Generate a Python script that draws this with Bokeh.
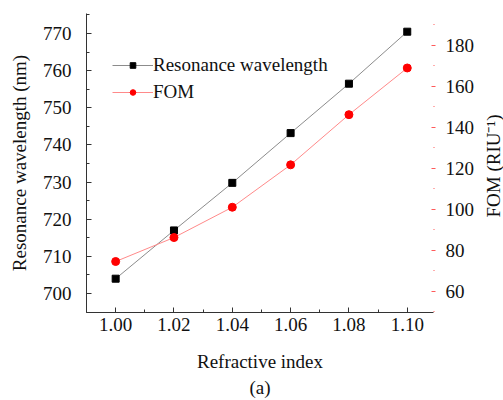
import math
from bokeh.plotting import figure
from bokeh.models import (Range1d, LinearAxis, FixedTicker, PrintfTickFormatter,
                          Label, Legend, Title)
from bokeh.embed import file_html
from bokeh.resources import INLINE

# ---- data ----
refractive_index = [1.00, 1.02, 1.04, 1.06, 1.08, 1.10]
resonance_wavelength = [704.0, 717.0, 729.8, 743.2, 756.5, 770.5]
fom = [74.5, 86.2, 101.0, 121.7, 146.2, 169.0]

x_ticks = [1.00, 1.02, 1.04, 1.06, 1.08, 1.10]
x_minor = [0.99, 1.01, 1.03, 1.05, 1.07, 1.09]
y_ticks = [700, 710, 720, 730, 740, 750, 760, 770]
y_minor = [695, 705, 715, 725, 735, 745, 755, 765, 775]
y2_ticks = [60, 80, 100, 120, 140, 160, 180]
y2_minor = [50, 70, 90, 110, 130, 150, 170, 190]

FONT = "Liberation Serif"
W, H = 503, 400
FL, FR, FT, FB = 86, 433, 13, 312  # frame edges in canvas px

p = figure(width=W, height=H, output_backend="svg", toolbar_location=None,
           x_range=Range1d(0.99, 1.109), y_range=Range1d(694.9, 775.4),
           min_border_left=FL, min_border_right=W - FR, min_border_top=FT,
           min_border_bottom=H - FB)
p.extra_y_ranges = {"fom": Range1d(49.6, 195.6)}
p.outline_line_color = None
p.grid.visible = False
p.background_fill_color = "white"
p.border_fill_color = "white"

# left axis
ya = p.yaxis[0]
ya.ticker = FixedTicker(ticks=y_ticks, minor_ticks=y_minor)
ya.axis_label = "Resonance wavelength (nm)"
ya.axis_label_standoff = 10
ya.major_label_standoff = 15

# bottom axis
xa = p.xaxis[0]
xa.ticker = FixedTicker(ticks=x_ticks, minor_ticks=x_minor)
xa.formatter = PrintfTickFormatter(format="%.2f")
xa.axis_label = "Refractive index"
xa.axis_label_standoff = 17
xa.major_label_standoff = 5

for ax in (xa, ya):
    ax.axis_label_text_font = FONT
    ax.axis_label_text_font_size = "19px"
    ax.axis_label_text_font_style = "normal"
    ax.major_label_text_font = FONT
    ax.major_label_text_font_size = "19px"
    ax.axis_line_color = "#333333"
    ax.major_tick_line_color = "#333333"
    ax.minor_tick_line_color = "#333333"
    ax.major_tick_in = 5
    ax.major_tick_out = 0
    ax.minor_tick_in = 3
    ax.minor_tick_out = 0
    ax.major_label_text_color = "#111111"
    ax.axis_label_text_color = "#111111"

# right axis
ra = LinearAxis(y_range_name="fom",
                ticker=FixedTicker(ticks=y2_ticks, minor_ticks=y2_minor))
ra.axis_line_color = None
ra.major_tick_line_color = "#ff5a5a"
ra.minor_tick_line_color = "#ff5a5a"
ra.major_tick_in = 2
ra.major_tick_out = 2
ra.minor_tick_in = 0
ra.minor_tick_out = 1
ra.major_label_text_font = FONT
ra.major_label_text_font_size = "19px"
ra.major_label_text_color = "#111111"
ra.major_label_standoff = 10
p.add_layout(ra, "right")

# lines & markers
p.line(refractive_index, resonance_wavelength, line_color="#8c8c8c", line_width=1)
p.scatter(refractive_index, resonance_wavelength, marker="square", size=7,
          fill_color="black", line_color="black")
p.line(refractive_index, fom, line_color="#ff8a8a", line_width=1, y_range_name="fom")
p.scatter(refractive_index, fom, marker="circle", size=8,
          fill_color="#ff0000", line_color="#ff0000", y_range_name="fom")

# legend-only glyphs
nan = [float("nan")]
l1 = p.line(nan, nan, line_color="#8c8c8c", line_width=1)
m1 = p.scatter(nan, nan, marker="square", size=5, fill_color="black", line_color="black")
l2 = p.line(nan, nan, line_color="#ff8a8a", line_width=1)
m2 = p.scatter(nan, nan, marker="circle", size=6, fill_color="#ff0000", line_color="#ff0000")

legend = Legend(items=[("Resonance wavelength", [l1, m1]), ("FOM", [l2, m2])],
                location=(26, 209))
legend.label_text_font = FONT
legend.label_text_font_size = "19px"
legend.label_text_color = "#111111"
legend.glyph_width = 41
legend.glyph_height = 14
legend.label_height = 14
legend.label_standoff = 0
legend.spacing = 5
legend.padding = 0
legend.margin = 0
legend.border_line_color = None
legend.background_fill_alpha = 0
p.add_layout(legend)

# right axis title, in the right side panel, reading bottom to top
p.add_layout(Label(x=16, y=95, x_units="screen", y_units="screen",
                   text="FOM (RIU⁻¹)", angle=math.pi / 2, text_font=FONT,
                   text_font_size="19px", text_align="left", text_baseline="middle",
                   text_color="#111111"), "right")

# panel label
p.add_layout(Title(text="(a)", align="center", text_font=FONT, text_font_size="19px",
                   text_font_style="normal", text_color="#111111", standoff=0), "below")

open("out.html", "w").write(file_html(p, INLINE))
